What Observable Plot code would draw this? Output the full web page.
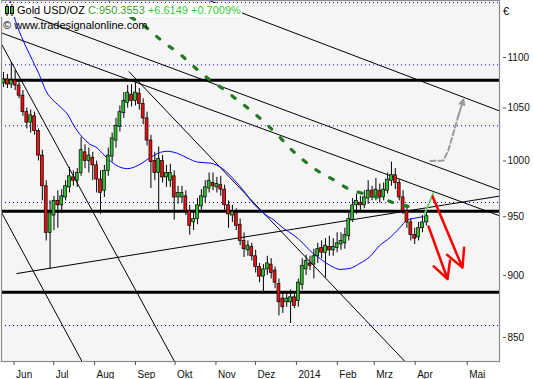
<!DOCTYPE html>
<html><head><meta charset="utf-8">
<script src="https://cdn.jsdelivr.net/npm/d3@7"></script>
<script src="https://cdn.jsdelivr.net/npm/@observablehq/plot@0.6"></script>
<style>
body{margin:0;background:#fff;}
#wrap{position:relative;width:533px;height:379px;font-family:"Liberation Sans",Arial,sans-serif;}
#title{position:absolute;left:1px;top:3px;height:14px;width:241px;background:#fff;font-size:11px;line-height:14px;white-space:nowrap;color:#000;}
#copy{position:absolute;left:3px;top:18px;font-size:11px;line-height:14px;white-space:nowrap;color:#000;}
#unit{position:absolute;left:503px;top:4px;font-size:11px;line-height:14px;color:#000;}
</style></head>
<body><div id="wrap"></div>
<script>
// ---- data ----
const titleName = "Gold USD/OZ";
const titleClose = "C:950.3553";
const titleChange = "+6.6149 +0.7009%";
const copyright = "\u00a9 www.tradesignalonline.com";
const currency = "\u20ac";

const opens = [1074,1078,1073,1077,1072,1062,1046,1036,1042,1028,1005,977,936,951,964,960,967,976,985,982,
989,1008,1000,1003,996,983,973,991,1004,1019,1032,1045,1055,1063,1057,1064,1054,1040,1019,1000,
989,1000,985,982,986,967,967,968,955,945,948,959,967,975,980,976,978,974,960,951,
953,943,929,921,924,916,907,899,905,909,904,893,881,878,878,882,879,892,905,910,
909,916,923,919,924,921,923,926,927,933,947,960,962,960,966,973,967,973,967,973,
982,987,980,967,955,945,934,932,940,945];
const closes = [1078,1073,1077,1072,1062,1046,1036,1043,1028,1005,977,936,953,964,960,968,977,986,982,989,
1010,1000,1005,996,983,971,991,1005,1021,1033,1046,1057,1065,1057,1065,1054,1040,1019,999,989,
1002,985,989,989,967,971,971,955,942,948,960,968,976,982,977,979,974,960,952,954,
942,929,922,925,916,907,899,905,910,902,894,878,874,881,882,875,894,908,912,908,
916,922,919,925,921,924,927,929,934,948,960,964,960,967,973,967,974,967,974,983,
987,980,967,955,945,934,931,940,945,950.36];
const highs = [1085,1083,1095,1087,1077,1067,1050,1048,1046,1030,1010,982,964,968,973,974,982,994,991,993,
1022,1015,1012,1008,1000,991,996,1012,1026,1040,1052,1065,1072,1073,1077,1069,1059,1046,1024,1008,
1013,1005,996,997,991,977,977,973,960,955,966,974,982,989,989,985,986,978,964,960,
957,948,936,929,927,921,910,909,916,914,907,897,886,886,888,886,897,914,917,916,
922,927,929,931,933,931,936,936,940,953,966,970,968,973,982,977,984,979,980,989,
999,993,983,973,960,948,940,945,951,955];
const lows = [1070,1069,1069,1067,1059,1042,1030,1026,1024,1000,964,929,905,938,940,953,964,971,977,976,
986,993,989,982,971,952,967,986,999,1012,1027,1040,1050,1051,1052,1048,1034,1014,975,982,
955,980,976,976,947,961,962,951,934,938,943,955,962,971,973,971,968,955,940,945,
938,925,915,916,912,902,894,885,900,897,889,867,869,874,861,873,874,888,900,904,
897,910,914,898,916,916,919,921,922,929,945,952,955,957,961,964,964,962,964,970,
977,974,964,952,940,929,926,929,936,942];
const candleStart = "2013-05-24";
const candleStepDays = 2.94;

const maDates = ["2013-05-28","2013-06-02","2013-06-08","2013-06-15","2013-06-21","2013-06-25","2013-07-01","2013-07-07","2013-07-12","2013-07-15","2013-07-19","2013-07-23","2013-07-28","2013-08-03","2013-08-07","2013-08-13","2013-08-21","2013-08-26","2013-09-03","2013-09-12","2013-09-20","2013-09-25","2013-10-03","2013-10-10","2013-10-18","2013-10-28","2013-11-06","2013-11-14","2013-11-22","2013-11-29","2013-12-07","2013-12-15","2013-12-22","2013-12-30","2014-01-06","2014-01-11","2014-01-19","2014-01-27","2014-02-03","2014-02-11","2014-02-18","2014-02-26","2014-03-05","2014-03-13","2014-03-20","2014-03-26","2014-04-02","2014-04-07"];
const maValues = [1165,1138,1117,1097,1080,1067,1057,1050,1043,1036,1028,1022,1016,1012,1007,1000,994,993,996,1003,1008,1009,1007,1003,999,998,993,984,973,962,953,947,940,934,927,921,914,908,905,906,910,916,925,932,940,947,949,950];

const stopDates = ["2013-08-10","2013-08-14","2013-09-10","2013-09-21","2013-10-06","2013-10-16","2013-10-26","2013-11-06","2013-11-18","2013-11-28","2013-12-08","2013-12-18","2013-12-27","2014-01-06","2014-01-17","2014-01-29","2014-02-09","2014-02-22","2014-03-07","2014-03-19","2014-04-01"];
const stopValues = [1163,1157,1130,1117,1102,1090,1079,1069,1057,1047,1036,1024,1012,1001,991,983,975,970,966,961,958];

const trendStartDates = ["2013-10-17T00:00Z","2013-05-22T11:00Z","2013-05-22T11:00Z","2013-06-02T19:00Z","2013-05-22T11:00Z","2013-05-22T11:00Z","2013-08-26T22:00Z"];
const trendStartValues = [1164.6,1154.6,1125.2,901.5,1113.7,953.7,1086];
const trendEndDates = ["2014-05-18T00:00Z","2014-05-18T00:00Z","2014-05-18T00:00Z","2014-05-18T00:00Z","2013-09-30T14:00Z","2013-07-22T12:00Z","2014-03-24T07:00Z"];
const trendEndValues = [1047.2,973.7,950.8,968.2,831.4,831.4,831.4];

const levels = [1077.3, 954.8, 886.2];
const gridLevels = [1157, 1092.6, 1033, 962.5, 859.4];

const redStartDates = ["2014-04-12T17:00Z","2014-04-10T15:00Z"];
const redStartValues = [968, 941.5];
const redEndDates = ["2014-04-28T12:00Z","2014-04-20T15:00Z"];
const redEndValues = [906.5, 897];

const grayDates = ["2014-04-11T17:00Z","2014-04-18T12:00Z","2014-04-21T02:00Z","2014-04-26T10:00Z"];
const grayValues = [1000, 1000.5, 1010, 1043];
const grayHeadDate = "2014-04-29T00:00Z";
const grayHeadValue = 1058;

const projDates = ["2014-04-08T00:00Z","2014-04-13T04:00Z"];
const projValues = [952, 971];

const yTicks = [850, 900, 950, 1000, 1050, 1100];
const monthDates = ["2013-06-01","2013-07-01","2013-08-01","2013-09-01","2013-10-01","2013-11-01","2013-12-01","2014-01-01","2014-02-01","2014-03-01","2014-04-01","2014-05-01"];
const monthLabels = ["Jun","Jul","Aug","Sep","Okt","Nov","Dez","2014","Feb","Mrz","Apr","Mai"];

// ---- build tables ----
const D = s => new Date(s.length === 10 ? s + "T00:00Z" : s);
const t0 = +D(candleStart);
const candles = closes.map((c, i) => ({
  date: new Date(t0 + i * candleStepDays * 864e5),
  open: opens[i], close: c, high: highs[i], low: lows[i]
}));
const half = 1.1 * 864e5;
const up = candles.filter(d => d.close >= d.open);
const down = candles.filter(d => d.close < d.open);
const ma = maDates.map((d, i) => ({date: D(d), v: maValues[i]}));
const stop = stopDates.map((d, i) => ({date: D(d), v: stopValues[i]}));
const trends = trendStartDates.map((d, i) => ({x1: D(d), y1: trendStartValues[i], x2: D(trendEndDates[i]), y2: trendEndValues[i]}));
const reds = redStartDates.map((d, i) => ({x1: D(d), y1: redStartValues[i], x2: D(redEndDates[i]), y2: redEndValues[i]}));
const gray = grayDates.map((d, i) => ({date: D(d), v: grayValues[i]}));
const grayHead = [{x1: D(grayDates[grayDates.length - 1]), y1: grayValues[grayValues.length - 1], x2: D(grayHeadDate), y2: grayHeadValue}];
const proj = projDates.map((d, i) => ({date: D(d), v: projValues[i]}));
const months = monthDates.map(D);
const monthLabel = new Map(months.map((d, i) => [+d, monthLabels[i]]));

const hasAxisMarks = typeof Plot.axisX === "function";

const marks = [
  Plot.frame({fill: "#f5f5f5", stroke: "none"}),
  Plot.ruleY(gridLevels, {stroke: "#0000ff", strokeWidth: 1, strokeDasharray: "1,3"}),
  Plot.link(trends, {x1: "x1", y1: "y1", x2: "x2", y2: "y2", stroke: "#000", strokeWidth: 1, clip: true}),
  Plot.ruleY(levels, {stroke: "#000", strokeWidth: 3}),
  Plot.line(ma, {x: "date", y: "v", stroke: "#0000ff", strokeWidth: 1, curve: "monotone-x", clip: true}),
  Plot.ruleX(candles, {x: "date", y1: "low", y2: "high", stroke: "#000", strokeWidth: 1}),
  Plot.rect(up, {x1: d => new Date(+d.date - half), x2: d => new Date(+d.date + half), y1: "open", y2: "close", fill: "#2fbf2f", stroke: "#000", strokeWidth: 0.7}),
  Plot.rect(down, {x1: d => new Date(+d.date - half), x2: d => new Date(+d.date + half), y1: "close", y2: "open", fill: "#f01010", stroke: "#000", strokeWidth: 0.7}),
  Plot.line(stop, {x: "date", y: "v", stroke: "#217a21", strokeWidth: 3.2, strokeDasharray: "4,12", curve: "monotone-x", clip: true}),
  Plot.line(proj, {x: "date", y: "v", stroke: "#5ddc5d", strokeWidth: 2, strokeDasharray: "4,3"}),
  Plot.line(gray, {x: "date", y: "v", stroke: "#9a9a9a", strokeWidth: 2, strokeDasharray: "5,3"}),
  Plot.arrow(grayHead, {x1: "x1", y1: "y1", x2: "x2", y2: "y2", stroke: "#9a9a9a", strokeWidth: 2, headLength: 10, headAngle: 50}),
  Plot.arrow(reds, {x1: "x1", y1: "y1", x2: "x2", y2: "y2", stroke: "#ff0000", strokeWidth: 2.5, headLength: 12, headAngle: 55}),
  Plot.frame({stroke: "#8a8a8a", strokeWidth: 1.2})
];
if (hasAxisMarks) {
  marks.push(
    Plot.axisY(yTicks, {anchor: "right", tickSize: 3, dx: 3, tickPadding: 2, tickFormat: d => String(d), fontSize: 10, stroke: "#555", fill: "#111"}),
    Plot.axisX(months, {anchor: "bottom", tickSize: 4, tickFormat: () => "", stroke: "#555"}),
    Plot.axisX(months, {anchor: "bottom", tickSize: 0, tickPadding: 9, textAnchor: "start", dx: 2, tickFormat: d => monthLabel.get(+d), fontSize: 10, fill: "#111"})
  );
}

const chart = Plot.plot({
  width: 533, height: 379,
  marginLeft: 1, marginRight: 34, marginTop: 0, marginBottom: 18,
  style: {fontFamily: "'Liberation Sans', Arial, sans-serif", fontSize: "10px", background: "transparent", overflow: "visible"},
  x: {type: "utc", domain: [D("2013-05-22T11:00Z"), D("2014-04-09T12:00Z"), D("2014-05-18T00:00Z")], range: [1, 425.9, 499],
      ...(hasAxisMarks ? {} : {axis: "bottom", ticks: months, tickFormat: d => monthLabel.get(+d), tickSize: 4, label: null})},
  y: {type: "log", domain: [831.4, 1159.3], range: [361, 0],
      ...(hasAxisMarks ? {} : {axis: "right", ticks: yTicks, tickFormat: d => String(d), tickSize: 5, label: null})},
  marks
});
const wrap = document.getElementById("wrap");
wrap.appendChild(chart);
if (!hasAxisMarks) {
  d3.select(chart).selectAll('g[aria-label="x-axis"] text').attr("text-anchor", "start").attr("dx", 2);
}

// overlay texts
const title = document.createElement("div");
title.id = "title";
title.innerHTML = '<svg width="12" height="13" style="position:absolute;left:3px;top:1px">' +
  '<line x1="3" y1="0" x2="3" y2="12" stroke="#000"/><rect x="1.5" y="2.5" width="3" height="7" fill="#2fbf2f" stroke="#000"/>' +
  '<line x1="8" y1="0" x2="8" y2="12" stroke="#000"/><rect x="6.5" y="2.5" width="3" height="7" fill="#2fbf2f" stroke="#000"/></svg>' +
  '<span style="position:absolute;left:16px;top:0">' + titleName + ' <span style="color:#3a9d3a">' + titleClose +
  '</span> <span style="color:#33cc33">' + titleChange + '</span></span>';
wrap.appendChild(title);
const copy = document.createElement("div");
copy.id = "copy"; copy.textContent = copyright; wrap.appendChild(copy);
const unit = document.createElement("div");
unit.id = "unit"; unit.textContent = currency; wrap.appendChild(unit);
</script>
</body></html>
